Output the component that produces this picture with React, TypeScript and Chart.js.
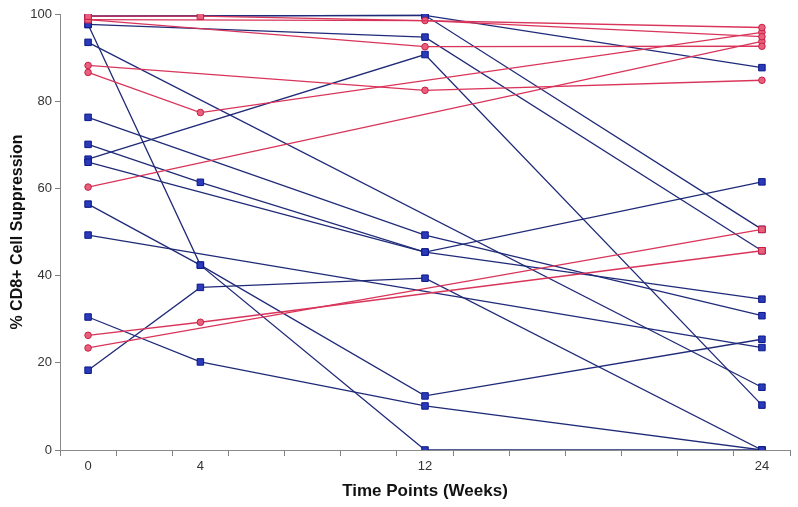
import React, { useEffect, useRef } from 'react';
import { Chart, registerables } from 'chart.js';

Chart.register(...registerables);

// Weeks at which measurements were taken (x values)
const weeks = [0, 4, 12, 24];
const xTickLabels = [0, 4, 12, 24];
const yTickValues = [0, 20, 40, 60, 80, 100];

// Red series (values at weeks 0, 4, 12, 24; null = not measured)
const red1 = [99.5, 99.5, null, 96.9];
const red2 = [98.7, null, 98.5, 94.8];
const red3 = [98.7, null, 92.5, 92.6];
const red4 = [88.2, null, 82.5, 84.8];
const red5 = [86.6, 77.4, null, 95.8];
const red6 = [60.3, null, null, 93.7];
const red7 = [26.3, 29.3, null, 45.7];
const red8 = [23.4, null, null, 50.6];

// Marker shapes for red series
const red1Shapes = ['rect', 'rect', 'circle', 'circle'];
const red2Shapes = ['rect', 'circle', 'circle', 'circle'];
const red3Shapes = ['circle', 'circle', 'circle', 'circle'];
const red4Shapes = ['circle', 'circle', 'circle', 'circle'];
const red5Shapes = ['circle', 'circle', 'circle', 'circle'];
const red6Shapes = ['circle', 'circle', 'circle', 'circle'];
const red7Shapes = ['circle', 'circle', 'circle', 'rect'];
const red8Shapes = ['circle', 'circle', 'circle', 'rect'];

// Blue series
const blue1 = [99.5, null, 99.7, 87.7];
const blue2 = [99.5, null, 99.7, 50.6];
const blue3 = [97.6, null, 94.7, 45.7];
const blue4 = [97.6, 42.4, 0, 0];
const blue5 = [56.4, 42.4, 12.4, 25.4];
const blue6 = [93.5, null, null, 14.4];
const blue7 = [76.3, null, 49.3, 30.8];
const blue8 = [70.1, 61.4, 45.4, 61.5];
const blue9 = [66.0, null, 45.4, 34.6];
const blue10 = [66.7, null, 90.7, 10.3];
const blue11 = [49.3, null, null, 23.5];
const blue12 = [30.5, 20.2, 10.1, 0];
const blue13 = [18.3, 37.3, 39.4, 0];

const redSeries = [red1, red2, red3, red4, red5, red6, red7, red8];
const redShapes = [red1Shapes, red2Shapes, red3Shapes, red4Shapes, red5Shapes, red6Shapes, red7Shapes, red8Shapes];
const blueSeries = [blue1, blue2, blue3, blue4, blue5, blue6, blue7, blue8, blue9, blue10, blue11, blue12, blue13];

const FONT = "'Liberation Sans', Arial, sans-serif";
const RED_LINE = '#d9345a';
const RED_FILL = '#e8607c';
const RED_EDGE = '#c81f45';
const BLUE_LINE = '#1f2a78';
const BLUE_FILL = '#2a3ab8';
const BLUE_EDGE = '#0c1888';

function makeDataset(values: (number | null)[], shapes: string[], line: string, fill: string, edge: string) {
  const data: { x: number; y: number }[] = [];
  const styles: string[] = [];
  const radii: number[] = [];
  values.forEach((v, i) => {
    if (v === null || v === undefined) return;
    data.push({ x: weeks[i], y: v });
    styles.push(shapes[i]);
    radii.push(shapes[i] === 'rect' ? 4.6 : 3.3);
  });
  return {
    data,
    borderColor: line,
    borderWidth: 1.3,
    pointStyle: styles,
    pointRadius: radii,
    pointBackgroundColor: fill,
    pointBorderColor: edge,
    pointBorderWidth: 1,
    fill: false,
    tension: 0,
    spanGaps: true,
  };
}

export default function App() {
  const canvasRef = useRef<HTMLCanvasElement | null>(null);

  useEffect(() => {
    if (!canvasRef.current) return;
    const datasets: any[] = [];
    // red first so it is drawn on top
    redSeries.forEach((s, i) => datasets.push(makeDataset(s, redShapes[i], RED_LINE, RED_FILL, RED_EDGE)));
    blueSeries.forEach((s) => datasets.push(makeDataset(s, ['rect', 'rect', 'rect', 'rect'], BLUE_LINE, BLUE_FILL, BLUE_EDGE)));

    const chart = new Chart(canvasRef.current, {
      type: 'line',
      data: { datasets },
      options: {
        animation: false,
        responsive: false,
        maintainAspectRatio: false,
        layout: { padding: { top: 14, right: 8, left: 0, bottom: 0 } },
        plugins: { legend: { display: false }, tooltip: { enabled: false } },
        scales: {
          x: {
            type: 'linear',
            min: -1,
            max: 25,
            afterBuildTicks: (scale: any) => {
              const t: { value: number }[] = [];
              for (let v = -1; v <= 25; v++) t.push({ value: v });
              scale.ticks = t;
            },
            afterFit: (scale: any) => {
              scale.height = 57;
            },
            ticks: {
              autoSkip: false,
              maxRotation: 0,
              padding: 3,
              color: '#333',
              font: { family: FONT, size: 13 },
              callback: (v: any) => (xTickLabels.includes(Number(v)) ? String(v) : ''),
            },
            grid: {
              drawOnChartArea: false,
              drawTicks: true,
              tickLength: 6,
              tickColor: (ctx: any) =>
                ctx.tick && Math.abs(ctx.tick.value) % 2 === 1 ? '#808080' : 'rgba(0,0,0,0)',
            },
            border: { display: true, color: '#8a8a8a', width: 1 },
            title: {
              display: true,
              text: 'Time Points (Weeks)',
              color: '#111',
              font: { family: FONT, size: 17, weight: 'bold' },
              padding: { top: 0, bottom: 5 },
            },
          },
          y: {
            type: 'linear',
            min: 0,
            max: 100,
            afterBuildTicks: (scale: any) => {
              scale.ticks = yTickValues.map((v) => ({ value: v }));
            },
            afterFit: (scale: any) => {
              scale.width = 60;
            },
            ticks: {
              padding: 3,
              color: '#333',
              font: { family: FONT, size: 13 },
            },
            grid: {
              drawOnChartArea: false,
              drawTicks: true,
              tickLength: 5,
              tickColor: '#808080',
            },
            border: { display: true, color: '#8a8a8a', width: 1 },
            title: {
              display: true,
              text: '% CD8+ Cell Suppression',
              color: '#111',
              font: { family: FONT, size: 16, weight: 'bold' },
              padding: { top: 8, bottom: 0 },
            },
          },
        },
      } as any,
    });
    return () => chart.destroy();
  }, []);

  return (
    <div style={{ position: 'fixed', left: 0, top: 0, width: 798, height: 507, background: '#fff' }}>
      <canvas ref={canvasRef} width={798} height={507} style={{ display: 'block' }} />
    </div>
  );
}
